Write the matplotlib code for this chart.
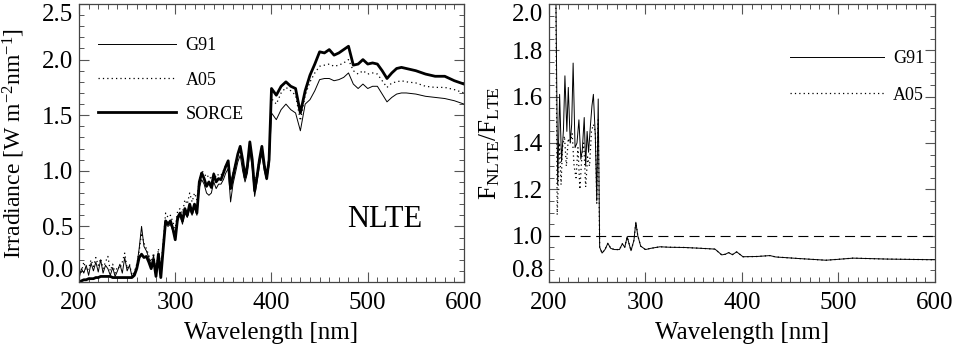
import numpy as np
import matplotlib
matplotlib.use("Agg")
import matplotlib.pyplot as plt
from matplotlib.ticker import MultipleLocator

plt.rcParams['font.family'] = ['Liberation Serif', 'DejaVu Serif']
plt.rcParams['mathtext.fontset'] = 'custom'
plt.rcParams['mathtext.rm'] = 'Liberation Serif'
plt.rcParams['mathtext.it'] = 'Liberation Serif:italic'

# ---- left panel: irradiance (W m-2 nm-1) ----
wl = list(np.arange(200, 400.1, 2.5)) + list(range(405, 541, 5)) + list(range(550, 601, 10))

sorce = [0.00, 0.01, 0.02, 0.02, 0.03, 0.03, 0.03, 0.04, 0.04, 0.05,
         0.05, 0.05, 0.05, 0.05, 0.04, 0.04, 0.04, 0.04, 0.04, 0.04,
         0.04, 0.04, 0.04, 0.06, 0.12, 0.22, 0.25, 0.22, 0.23, 0.18,
         0.12, 0.20, 0.05, 0.25, 0.04, 0.30, 0.55, 0.52, 0.55, 0.48,
         0.38, 0.58, 0.62, 0.55, 0.66, 0.60, 0.70, 0.62, 0.70, 0.62,
         0.90, 0.98, 0.93, 0.86, 0.90, 0.85, 0.97, 0.90, 0.93, 0.92,
         0.98, 1.04, 1.09, 0.84, 0.95, 1.05, 1.15, 1.22, 1.10, 0.94,
         1.05, 1.26, 1.10, 0.82, 0.95, 1.10, 1.22, 1.05, 0.93, 1.10,
         1.74,
         1.68, 1.76, 1.80, 1.76, 1.74, 1.52, 1.72, 1.86, 1.96, 2.07,
         2.06, 2.09, 2.04, 2.06, 2.09, 2.12, 1.95, 1.96, 2.00, 1.96,
         1.97, 1.96, 1.90, 1.83, 1.88, 1.92, 1.93, 1.92,
         1.90, 1.87, 1.85, 1.85, 1.81, 1.78]

g91 = [0.03, 0.12, 0.08, 0.15, 0.06, 0.17, 0.10, 0.18, 0.09, 0.20,
       0.08, 0.15, 0.12, 0.06, 0.13, 0.05, 0.10, 0.16, 0.08, 0.22,
       0.10, 0.15, 0.05, 0.08, 0.14, 0.30, 0.50, 0.32, 0.28, 0.22,
       0.15, 0.24, 0.06, 0.26, 0.10, 0.32, 0.52, 0.50, 0.52, 0.46,
       0.40, 0.55, 0.60, 0.52, 0.62, 0.58, 0.66, 0.60, 0.68, 0.60,
       0.85, 0.92, 0.88, 0.80, 0.78, 0.80, 0.90, 0.84, 0.88, 0.88,
       0.92, 0.98, 1.02, 0.72, 0.88, 0.98, 1.08, 1.14, 1.00, 0.90,
       0.98, 1.18, 1.02, 0.77, 0.90, 1.05, 1.15, 1.00, 0.92, 1.05,
       1.52,
       1.46, 1.55, 1.60, 1.55, 1.52, 1.36, 1.60, 1.64, 1.72, 1.82,
       1.83, 1.83, 1.81, 1.82, 1.84, 1.88, 1.78, 1.74, 1.78, 1.74,
       1.76, 1.76, 1.69, 1.62, 1.66, 1.69, 1.70, 1.70,
       1.69, 1.67, 1.66, 1.65, 1.63, 1.60]

a05 = [0.05, 0.09, 0.18, 0.10, 0.12, 0.20, 0.14, 0.22, 0.15, 0.21,
       0.12, 0.18, 0.23, 0.10, 0.16, 0.08, 0.14, 0.12, 0.18, 0.26,
       0.12, 0.16, 0.06, 0.09, 0.16, 0.28, 0.44, 0.35, 0.30, 0.24,
       0.18, 0.26, 0.08, 0.30, 0.12, 0.36, 0.62, 0.58, 0.60, 0.54,
       0.48, 0.64, 0.66, 0.62, 0.74, 0.70, 0.80, 0.72, 0.80, 0.74,
       0.92, 1.00, 0.98, 0.94, 0.96, 0.92, 0.98, 0.94, 0.97, 0.96,
       1.00, 1.05, 1.08, 0.88, 0.98, 1.06, 1.14, 1.18, 1.08, 0.98,
       1.06, 1.22, 1.10, 0.88, 0.98, 1.12, 1.20, 1.06, 0.98, 1.12,
       1.65,
       1.60, 1.70, 1.75, 1.72, 1.68, 1.45, 1.68, 1.80, 1.88, 1.94,
       1.95, 1.96, 1.94, 1.95, 1.97, 2.00, 1.90, 1.87, 1.90, 1.87,
       1.88, 1.87, 1.81, 1.75, 1.79, 1.80, 1.81, 1.80,
       1.79, 1.76, 1.75, 1.75, 1.73, 1.70]

# ---- right panel: F_NLTE / F_LTE ----
wl_g91_uv = [207, 209, 211, 213, 215, 216.5, 218.5, 220, 222, 223.5, 225, 227,
             229, 231, 233, 234.5, 236.5, 238, 239.5, 241, 243, 244.5, 246,
             248, 249.5, 251]
r_g91_uv = [2.10, 1.22, 1.61, 1.32, 1.46, 1.69, 1.45, 1.64, 1.40, 1.48, 1.745, 1.38,
            1.40, 1.50, 1.33, 1.37, 1.51, 1.30, 1.45, 1.36, 1.48, 1.56, 1.61,
            1.43, 1.15, 1.59]

wl_a05_uv = [207, 208.5, 211, 212.5, 214, 216, 218, 220, 222, 224, 226, 228,
             230, 232, 234, 236, 238, 240, 242, 244, 246, 248, 249.5, 251]
r_a05_uv = [2.10, 1.09, 1.40, 1.22, 1.38, 1.43, 1.30, 1.42, 1.40, 1.44, 1.30, 1.25,
            1.38, 1.20, 1.34, 1.40, 1.21, 1.34, 1.30, 1.45, 1.48, 1.45, 1.14, 1.50]

wl_tail = [252.5, 255, 258, 261, 264, 268, 273, 276, 278.5, 281, 285, 288, 290,
           292, 295, 300, 305, 315, 325, 340, 355, 372, 379, 383, 386, 390,
           394.5, 401, 415, 429, 435, 460, 487, 500, 515, 550, 600]
r_tail = [0.95, 0.925, 0.94, 0.967, 0.945, 0.94, 0.94, 0.965, 0.95, 0.995, 0.935, 0.98, 1.058,
          1.0, 0.955, 0.94, 0.945, 0.952, 0.95, 0.949, 0.946, 0.942, 0.917, 0.92, 0.927, 0.918,
          0.93, 0.909, 0.91, 0.914, 0.908, 0.901, 0.894, 0.898, 0.903, 0.899, 0.896]

fig = plt.figure(figsize=(9.54, 3.47), dpi=100)
ax1 = fig.add_axes([79 / 954, 65 / 347, 385 / 954, 278 / 347])
ax2 = fig.add_axes([549 / 954, 65 / 347, 386 / 954, 278 / 347])

ax1.plot(wl, g91, color='black', lw=0.7, label='G91')
ax1.plot(wl, a05, color='black', lw=0.9, linestyle=(0, (1, 2.5)), label='A05')
ax1.plot(wl, sorce, color='black', lw=2.0, label='SORCE')
ax1.set_xlim(200, 600)
ax1.set_ylim(0, 2.5)
ax1.yaxis.set_major_locator(MultipleLocator(0.5))
ax1.yaxis.set_minor_locator(MultipleLocator(0.1))
ax1.set_ylabel(r'Irradiance [W m$^{-2}$nm$^{-1}$]', fontsize=17, va='center')
ax1.yaxis.set_label_coords(-0.168, 0.5)
ax1.text(0.795, 0.225, 'NLTE', transform=ax1.transAxes, fontsize=22,
         ha='center', va='center')
ax1.legend(loc='upper left', bbox_to_anchor=(0.049, 0.88), frameon=False,
           fontsize=13, handlelength=4.3, handletextpad=0.55, labelspacing=0.95,
           borderpad=0, borderaxespad=0)

ax2.plot(wl_g91_uv + wl_tail, r_g91_uv + r_tail, color='black', lw=0.7, label='G91')
ax2.plot(wl_a05_uv + wl_tail, r_a05_uv + r_tail, color='black', lw=0.9,
         linestyle=(0, (1, 2.5)), label='A05')
ax2.axhline(1.0, color='black', lw=0.8, linestyle=(0, (9, 5)))
ax2.set_xlim(200, 600)
ax2.set_ylim(0.8, 2.0)
ax2.yaxis.set_major_locator(MultipleLocator(0.2))
ax2.yaxis.set_minor_locator(MultipleLocator(0.05))
ax2.set_ylabel(r'F$_{\mathrm{NLTE}}$/F$_{\mathrm{LTE}}$', fontsize=18, va='center')
ax2.yaxis.set_label_coords(-0.153, 0.5)
ax2.legend(loc='upper left', bbox_to_anchor=(0.624, 0.835), frameon=False,
           fontsize=13, handlelength=5.2, handletextpad=0.5, labelspacing=1.1,
           borderpad=0, borderaxespad=0)

for ax in (ax1, ax2):
    ax.set_xlabel('Wavelength [nm]', fontsize=18, labelpad=6)
    ax.xaxis.set_major_locator(MultipleLocator(100))
    ax.xaxis.set_minor_locator(MultipleLocator(10))
    ax.tick_params(which='both', direction='in', top=True, right=True,
                   color='#555555', labelsize=18)
    ax.tick_params(which='major', length=7, width=0.8)
    ax.tick_params(which='minor', length=3.5, width=0.7)
    ax.tick_params(axis='x', pad=7)
    ax.tick_params(axis='y', pad=4)
    for s in ax.spines.values():
        s.set_color('#444444')
        s.set_linewidth(0.9)

# end labels sit inside the frame, as in the original
fig.canvas.draw()
for ax in (ax1, ax2):
    lo, hi = ax.get_ylim()
    for tick in ax.yaxis.get_major_ticks():
        val = tick.get_loc()
        if abs(val - lo) < 1e-6:
            tick.label1.set_va('bottom')
        elif abs(val - hi) < 1e-6:
            tick.label1.set_va('top')

fig.savefig('out.png', dpi=100)
